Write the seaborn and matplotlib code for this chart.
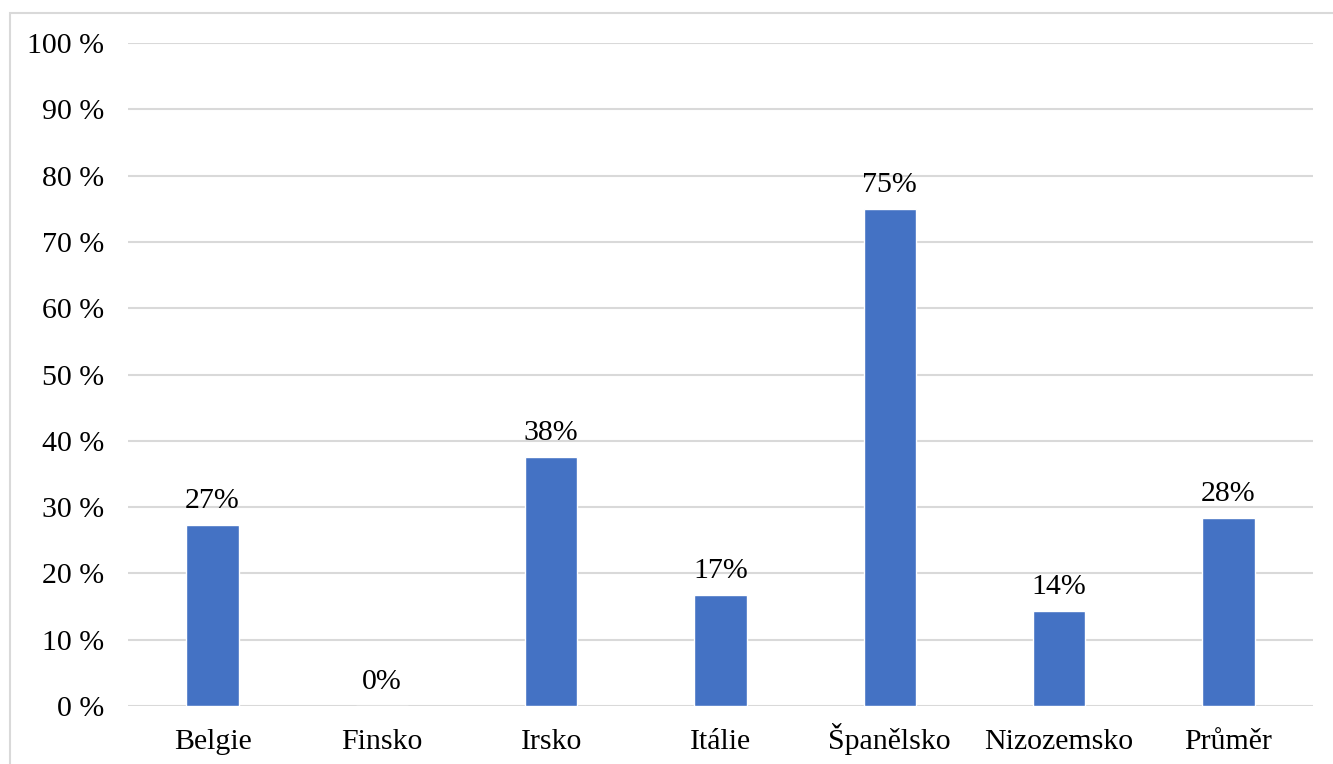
import matplotlib
matplotlib.use("Agg")
import matplotlib.pyplot as plt
import matplotlib.patches as mpatches
import seaborn as sns
import pandas as pd

# data (percent)
countries = ["Belgie", "Finsko", "Irsko", "Itálie", "Španělsko", "Nizozemsko", "Průměr"]
shares = [27.3, 0.0, 37.5, 16.7, 75.0, 14.3, 28.4]
yticks = [0, 10, 20, 30, 40, 50, 60, 70, 80, 90, 100]

df = pd.DataFrame({"country": countries, "share": shares})

sns.set_theme(style="white")
plt.rcParams['font.family'] = ['Liberation Serif', 'DejaVu Serif']
plt.rcParams['text.color'] = 'black'
plt.rcParams['xtick.color'] = 'black'
plt.rcParams['ytick.color'] = 'black'

fig = plt.figure(figsize=(13.33, 7.64), dpi=100)
ax = fig.add_axes([0.096, 0.0759, 0.889, 0.8678])

# light frame of the chart area
fig.patches.append(mpatches.Rectangle((10 / 1333, -0.05), 1.2, 1 - 13 / 764 + 0.05,
                                      transform=fig.transFigure, fill=False,
                                      edgecolor="#d9d9d9", linewidth=1.5, zorder=0))

g = sns.barplot(data=df, x="country", y="share", color="#4472c4", width=0.31,
                saturation=1, ax=ax, zorder=3)

g.set_ylim(0, 100)
g.set_xlim(-0.5, 6.5)
g.set_yticks(yticks, labels=[f"{t} %" for t in yticks])
g.yaxis.grid(True, color="#d9d9d9", linewidth=1.5)
g.set_axisbelow(True)
for s in ["top", "right", "left", "bottom"]:
    g.spines[s].set_visible(False)
g.tick_params(axis="y", length=0, pad=17, labelsize=21.5)
g.tick_params(axis="x", length=0, pad=31, labelsize=21.5)
for lab in g.get_xticklabels():
    lab.set_verticalalignment("baseline")
g.set(xlabel="", ylabel="")

g.bar_label(g.containers[0], labels=[f"{int(v + 0.5)}%" for v in shares],
            padding=8, fontsize=21.5)

fig.savefig("out.png", dpi=100)
